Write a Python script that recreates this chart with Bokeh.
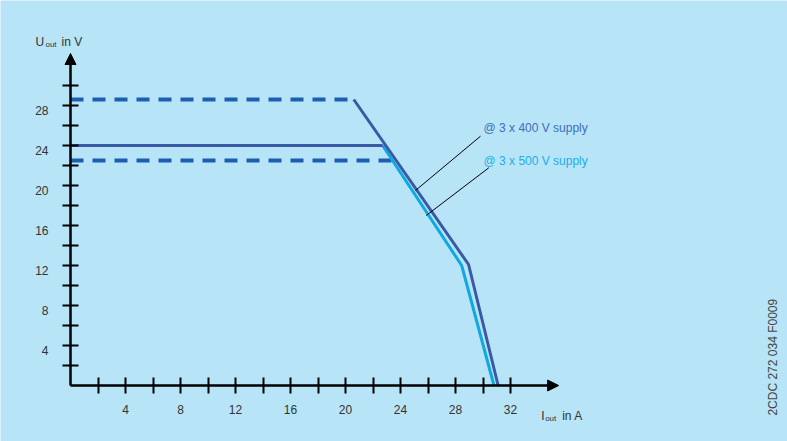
from bokeh.plotting import figure
from bokeh.models import Range1d, FixedTicker, Arrow, NormalHead, Label
from bokeh.core.properties import value
from bokeh.embed import file_html
from bokeh.resources import INLINE

# ---- data ----
x_major = [4, 8, 12, 16, 20, 24, 28, 32]
x_minor = [2, 6, 10, 14, 18, 22, 26, 30]
y_major = [4, 8, 12, 16, 20, 24, 28]
y_minor = [2, 6, 10, 14, 18, 22, 26, 30]
y_labels = ["4", "8", "12", "16", "20", "24", "28"]

# 3 x 400 V supply
i400_dash = [0, 20.6]
u400_dash = [28.6, 28.6]
i400 = [20.6, 28.95, 31.1]
u400 = [28.6, 12.1, 0]

# nominal 24 V output
i_nom = [0, 22.7]
u_nom = [24, 24]

# 3 x 500 V supply
i500_dash = [0, 23.4]
u500_dash = [22.5, 22.5]
i500 = [22.7, 28.45, 30.8]
u500 = [24, 12.0, 0]

# leader lines for the labels
lead400_i = [29.82, 25.09]
lead400_u = [24.93, 19.5]
lead500_i = [30.42, 25.87]
lead500_u = [21.77, 17.0]

BG = "#b8e4f8"
DASH = "#1c5fb0"
DARK = "#3a5aa6"
LIGHT = "#10a8e0"
TXT = "#333333"
FONT = "Liberation Sans"

p = figure(width=787, height=441, output_backend="svg", toolbar_location=None,
           title=None,
           x_range=Range1d(-70 / 13.75, 717 / 13.75), y_range=Range1d(-5.6, 38.5),
           min_border_left=0, min_border_right=0, min_border_top=0,
           min_border_bottom=0)
p.background_fill_color = BG
p.border_fill_color = BG
p.outline_line_color = None
p.grid.visible = False

for ax, maj, mnr in ((p.xaxis[0], x_major, x_minor), (p.yaxis[0], y_major, y_minor)):
    ax.fixed_location = 0
    ax.ticker = FixedTicker(ticks=maj, minor_ticks=mnr)
    ax.axis_line_color = None
    ax.major_tick_in = 8
    ax.major_tick_out = 8
    ax.minor_tick_in = 8
    ax.minor_tick_out = 8
    ax.major_tick_line_color = "black"
    ax.minor_tick_line_color = "black"
    ax.major_tick_line_width = 2
    ax.minor_tick_line_width = 2
    ax.major_label_text_font = FONT
    ax.major_label_text_font_size = "12px"
    ax.major_label_text_color = TXT

p.xaxis.major_label_standoff = 11
# y tick labels sit a little below their ticks in the original: drawn as text
p.yaxis.major_label_text_color = None
p.text(x=[0] * len(y_major), y=y_major, text=y_labels,
       x_offset=-22, y_offset=5, text_align="right", text_baseline="middle",
       text_font=value(FONT), text_font_size="12px", text_color=TXT)

# axis lines with arrow heads
p.add_layout(Arrow(end=NormalHead(size=11, fill_color="black", line_color="black", line_width=1),
                   x_start=0, y_start=0, x_end=35.5, y_end=0,
                   line_color="black", line_width=2.5))
p.add_layout(Arrow(end=NormalHead(size=11, fill_color="black", line_color="black", line_width=1),
                   x_start=0, y_start=0, x_end=0, y_end=33.2,
                   line_color="black", line_width=2.5))

# curves
p.line(i400_dash, u400_dash, line_color=DASH, line_width=4, line_dash="13 9")
p.line(i500_dash, u500_dash, line_color=DASH, line_width=4, line_dash="13 9")
p.line(i500, u500, line_color=LIGHT, line_width=3)
p.line(i_nom, u_nom, line_color=DARK, line_width=3)
p.line(i400, u400, line_color=DARK, line_width=3)

# leaders
p.line(lead400_i, lead400_u, line_color="black", line_width=1)
p.line(lead500_i, lead500_u, line_color="black", line_width=1)

def lab(x, y, t, size="12px", color=TXT, **kw):
    p.add_layout(Label(x=x, y=y, text=t, text_font=FONT, text_font_size=size,
                       text_color=color, **kw))

lab(30.04, 25.73, "@ 3 x 400 V supply", color="#3d6fb8", text_baseline="middle")
lab(30.04, 22.5, "@ 3 x 500 V supply", color="#22aee6", text_baseline="middle")

# axis titles
lab(-2.545, 34.33, "U", size="12px", text_baseline="alphabetic")
lab(-1.82, 34.1, "out", size="8px", text_baseline="alphabetic")
lab(-0.655, 34.33, "in V", size="12px", text_baseline="alphabetic")

lab(34.23, -3.0, "I", size="12px", text_baseline="alphabetic")
lab(34.52, -3.3, "out", size="8px", text_baseline="alphabetic")
lab(35.76, -3.0, "in A", size="12px", text_baseline="alphabetic")

# document code
lab(51.1, 2.83, "2CDC 272 034 F0009", size="12px", color="#444444",
    angle=90, angle_units="deg", text_align="center", text_baseline="middle")

open("out.html", "w").write(file_html(p, INLINE))
